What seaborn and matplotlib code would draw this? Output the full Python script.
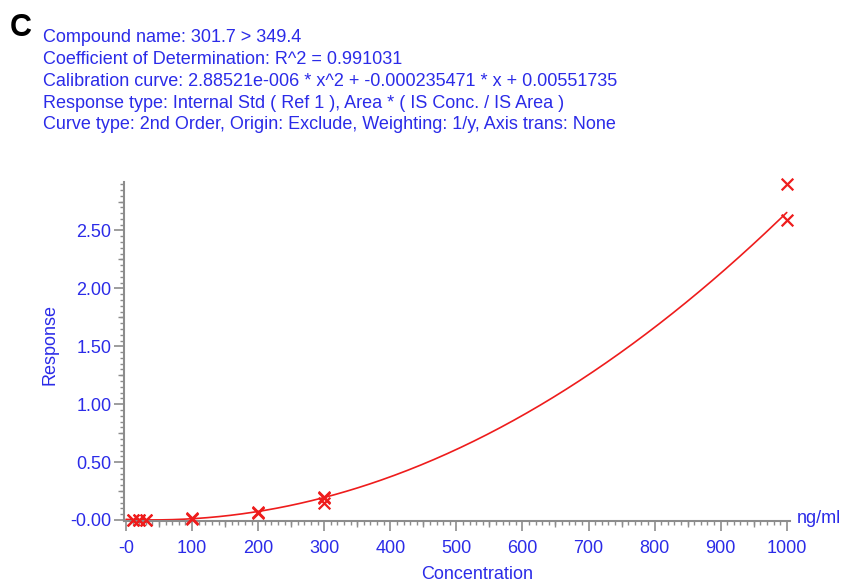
import numpy as np
import pandas as pd
import matplotlib
matplotlib.use("Agg")
import matplotlib.pyplot as plt
from matplotlib.ticker import MultipleLocator, FixedLocator
import seaborn as sns

# calibration standards
conc = [10, 10, 20, 20, 30, 30, 100, 100, 200, 200, 300, 300, 300, 1000, 1000]
resp = [0.0, 0.0, 0.0, 0.0, 0.0, 0.0, 0.01, 0.015, 0.06, 0.065, 0.19, 0.20, 0.15, 2.59, 2.90]

# fit coefficients as printed in the header (x^2, x, 1)
coefs = [2.88521e-06, -0.000235471, 0.00551735]

x_ticks = [0, 100, 200, 300, 400, 500, 600, 700, 800, 900, 1000]
x_ticklabels = ["-0", "100", "200", "300", "400", "500", "600", "700", "800", "900", "1000"]
x_mid = [50, 150, 250, 350, 450, 550, 650, 750, 850, 950]
y_ticks = [0.0, 0.5, 1.0, 1.5, 2.0, 2.5]
y_ticklabels = ["-0.00", "0.50", "1.00", "1.50", "2.00", "2.50"]
y_mid = [0.25, 0.75, 1.25, 1.75, 2.25, 2.75]

header = [
    "Compound name: 301.7 > 349.4",
    "Coefficient of Determination: R^2 = 0.991031",
    "Calibration curve: 2.88521e-006 * x^2 + -0.000235471 * x + 0.00551735",
    "Response type: Internal Std ( Ref 1 ), Area * ( IS Conc. / IS Area )",
    "Curve type: 2nd Order, Origin: Exclude, Weighting: 1/y, Axis trans: None",
]

blue = "#2b2be8"
grey = "#8c8c8c"
red = "#ee1c1c"

sns.set_theme(style="white")
plt.rcParams["font.family"] = ["Liberation Sans", "DejaVu Sans"]

fig = plt.figure(figsize=(8.42, 5.81), dpi=100)
ax = fig.add_axes([0.1473, 0.104, 0.791, 0.583])

xs = np.linspace(0, 1000, 400)
curve = pd.DataFrame({"x": xs, "y": np.polyval(coefs, xs)})
pts = pd.DataFrame({"conc": conc, "resp": resp})

sns.lineplot(data=curve, x="x", y="y", color=red, lw=1.2, ax=ax)
sns.scatterplot(data=pts, x="conc", y="resp", marker="x", s=70, color=red,
                linewidth=1.6, ax=ax, zorder=3, clip_on=False)

ax.set_xlim(-3, 1005)
ax.set_ylim(-0.005, 2.92)

for s in ["top", "right"]:
    ax.spines[s].set_visible(False)
for s in ["left", "bottom"]:
    ax.spines[s].set_color(grey)
    ax.spines[s].set_linewidth(1.5)

ax.xaxis.set_major_locator(FixedLocator(x_ticks))
ax.set_xticklabels(x_ticklabels)
ax.yaxis.set_major_locator(FixedLocator(y_ticks))
ax.set_yticklabels(y_ticklabels)
ax.xaxis.set_minor_locator(MultipleLocator(10))
ax.yaxis.set_minor_locator(MultipleLocator(0.05))
ax.tick_params(which="major", length=7, width=1.2, color=grey, labelcolor=blue,
               labelsize=13, direction="out", bottom=True, left=True)
ax.tick_params(axis="x", which="major", pad=7)
ax.tick_params(axis="y", which="major", pad=2)
ax.tick_params(which="minor", length=3, width=1, color=grey, direction="out",
               bottom=True, left=True)

# slightly longer ticks half way between the labelled ones
secx = ax.secondary_xaxis("bottom")
secx.set_xticks(x_mid)
secx.tick_params(length=4.5, width=1, color=grey, labelbottom=False)
secx.spines["bottom"].set_visible(False)
secy = ax.secondary_yaxis("left")
secy.set_yticks(y_mid)
secy.tick_params(length=4.5, width=1, color=grey, labelleft=False)
secy.spines["left"].set_visible(False)

ax.set_xlabel("Concentration", color=blue, fontsize=13)
ax.set_ylabel("Response", color=blue, fontsize=13)
ax.xaxis.set_label_coords(0.53, -0.133)
ax.yaxis.set_label_coords(-0.099, 0.52)
ax.text(1.01, 0.005, "ng/ml", transform=ax.transAxes, color=blue, fontsize=13,
        ha="left", va="center")

fig.text(10 / 842, 1 - 28 / 581, "C", fontsize=22, fontweight="bold", color="black",
         va="center", ha="left")
for i, line in enumerate(header):
    fig.text(43 / 842, 1 - (38 + 21.7 * i) / 581, line, fontsize=13, color=blue,
             va="center", ha="left")

fig.savefig("out.png", dpi=100)
